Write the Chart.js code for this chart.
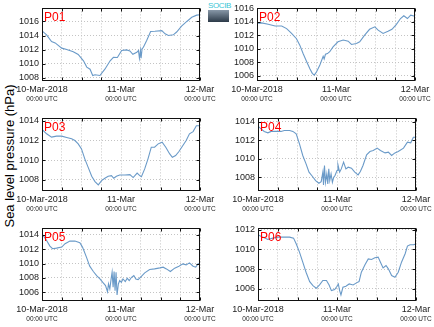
<!DOCTYPE html>
<html>
<head>
<meta charset="utf-8">
<script src="https://cdn.jsdelivr.net/npm/chart.js@4.4.1/dist/chart.umd.min.js"></script>
<style>
  body { margin: 0; background: #fff; width: 434px; height: 327px; position: relative; overflow: hidden; font-family: "Liberation Sans", Arial, sans-serif; }
  canvas { position: absolute; }
  #ylab { position: absolute; left: 9px; top: 156px; transform: translate(-50%, -50%) rotate(-90deg); font-size: 13px; white-space: nowrap; color: #000; }
  #logo { position: absolute; left: 208px; top: 2px; width: 21px; }
  #logo .t { font-size: 8px; line-height: 8px; color: #39c6d6; text-align: center; letter-spacing: -0.4px; }
  #logo .b { height: 12px; background: linear-gradient(#8898a8, #2c3a48); }
</style>
</head>
<body>
<div id="ylab">Sea level pressure (hPa)</div>
<div id="logo"><div class="t">SOCIB</div><div class="b"></div></div>
<script>
// hours since 10-Mar-2018 00:00 UTC
const dayHours = [0, 24, 48];
const dayLabels = ["10-Mar-2018", "11-Mar", "12-Mar"];
const utcLabel = "00:00 UTC";
const gridHours = [0, 6, 12, 18, 24, 30, 36, 42, 48];

const hoursP01 = [0, 1.4, 2.9, 4.0, 6.0, 7.5, 9.5, 11.0, 12.6, 13.6, 14.6, 15.4, 16.1, 17.6, 19.1, 20.7, 21.7, 22.9, 24.2, 25.7, 26.7, 27.6, 28.8, 29.3, 29.6, 29.9, 30.1, 30.4, 30.8, 31.8, 33.0, 34.3, 36.4, 37.4, 38.4, 39.9, 40.9, 42.4, 44.0, 45.5, 47.0, 48];
const pressP01 = [1014.67, 1014.1, 1013.14, 1012.95, 1012.2, 1012.0, 1011.7, 1011.3, 1010.4, 1009.5, 1009.2, 1008.3, 1008.4, 1008.3, 1009.2, 1010.4, 1010.9, 1010.86, 1011.86, 1011.95, 1011.8, 1011.33, 1011.6, 1011.86, 1010.76, 1011.86, 1010.76, 1012.1, 1012.33, 1013.3, 1014.57, 1014.6, 1014.7, 1014.24, 1014.0, 1014.1, 1014.5, 1015.33, 1016.0, 1016.6, 1016.9, 1016.95];

const hoursP02 = [0, 1.4, 3.4, 5.5, 7.5, 9.0, 10.5, 12.0, 13.0, 14.0, 15.1, 16.1, 16.8, 17.4, 18.1, 19.1, 20.1, 20.4, 20.8, 21.4, 22.1, 23.1, 24.6, 26.2, 27.7, 28.7, 30.2, 31.2, 32.7, 34.2, 35.8, 36.8, 38.3, 39.8, 41.0, 42.3, 43.6, 44.6, 45.7, 46.7, 48];
const pressP02 = [1013.8, 1013.85, 1013.65, 1013.4, 1013.4, 1013.0, 1012.3, 1011.5, 1010.55, 1009.3, 1008.1, 1007.0, 1006.36, 1006.1, 1006.6, 1007.6, 1008.9, 1008.5, 1009.2, 1009.3, 1009.57, 1010.3, 1011.04, 1011.3, 1011.14, 1010.65, 1010.8, 1011.04, 1012.03, 1012.9, 1013.26, 1012.77, 1012.28, 1012.6, 1012.9, 1013.6, 1014.5, 1014.9, 1014.5, 1015.0, 1014.84];

const hoursP03 = [0, 1.4, 2.9, 4.4, 6.0, 7.5, 9.0, 10.0, 11.0, 12.0, 13.0, 14.0, 15.1, 16.1, 17.1, 18.1, 19.1, 20.1, 21.1, 21.8, 22.6, 23.6, 25.2, 26.7, 27.7, 28.9, 29.7, 30.2, 31.2, 32.2, 33.2, 34.2, 35.3, 36.5, 37.6, 38.8, 39.6, 40.6, 41.6, 42.8, 43.8, 44.8, 45.9, 46.9, 48];
const pressP03 = [1013.12, 1012.68, 1012.34, 1012.44, 1012.44, 1012.3, 1012.17, 1012.0, 1011.66, 1011.15, 1010.14, 1009.3, 1008.37, 1007.83, 1007.5, 1007.93, 1008.17, 1008.37, 1008.44, 1008.17, 1008.37, 1008.5, 1008.5, 1008.54, 1008.24, 1008.7, 1008.44, 1008.34, 1009.12, 1010.14, 1011.32, 1011.32, 1011.66, 1011.83, 1011.32, 1010.64, 1010.3, 1010.47, 1010.88, 1011.49, 1012.0, 1012.68, 1012.9, 1013.5, 1013.5];

const hoursP04 = [0, 0.9, 1.9, 3.0, 4.0, 5.5, 7.0, 8.0, 9.6, 10.6, 11.6, 12.6, 13.6, 14.6, 15.5, 16.5, 17.5, 18.5, 19.2, 19.7, 19.9, 20.2, 20.5, 20.9, 21.2, 21.5, 21.8, 22.2, 22.6, 23.0, 23.4, 24.0, 24.3, 24.8, 25.3, 26.0, 26.7, 27.4, 28.4, 29.4, 30.4, 31.1, 31.9, 33.0, 34.0, 35.0, 36.2, 37.2, 38.6, 39.6, 40.6, 41.6, 42.6, 44.2, 45.4, 46.4, 47.2, 48];
const pressP04 = [1013.51, 1013.22, 1012.94, 1012.79, 1012.94, 1012.94, 1012.94, 1013.04, 1013.04, 1012.94, 1012.68, 1011.6, 1010.35, 1009.45, 1008.55, 1008.12, 1007.65, 1007.36, 1007.54, 1008.55, 1007.18, 1009.27, 1007.47, 1008.37, 1007.29, 1008.91, 1007.65, 1008.37, 1007.47, 1008.0, 1008.19, 1008.73, 1009.34, 1008.55, 1008.91, 1009.63, 1008.91, 1009.09, 1008.98, 1008.55, 1008.26, 1008.62, 1009.27, 1010.42, 1010.78, 1010.88, 1011.14, 1010.88, 1010.63, 1010.71, 1010.35, 1010.63, 1010.78, 1011.14, 1011.78, 1011.71, 1012.32, 1012.32];

const hoursP05 = [0, 1.4, 2.4, 3.2, 4.4, 6.0, 7.0, 8.5, 10.0, 11.5, 12.3, 13.5, 14.5, 15.6, 16.6, 17.6, 18.6, 19.3, 19.9, 20.2, 20.6, 21.0, 21.3, 21.6, 21.9, 22.2, 22.5, 22.8, 23.2, 23.6, 24.1, 24.6, 25.3, 25.9, 26.5, 27.2, 27.9, 28.5, 29.2, 30.2, 31.2, 32.7, 34.2, 35.8, 36.8, 37.8, 39.0, 40.3, 41.6, 42.8, 43.8, 44.8, 45.9, 46.7, 47.4, 48];
const pressP05 = [1014.16, 1013.22, 1012.43, 1012.06, 1012.15, 1012.29, 1012.76, 1013.13, 1013.13, 1012.9, 1012.29, 1010.89, 1009.63, 1008.88, 1008.32, 1007.85, 1007.29, 1006.92, 1006.07, 1007.15, 1006.45, 1007.85, 1008.79, 1006.68, 1008.88, 1006.21, 1008.79, 1005.61, 1007.15, 1007.62, 1007.38, 1007.85, 1007.48, 1007.94, 1007.62, 1008.08, 1008.32, 1007.85, 1007.76, 1008.22, 1008.69, 1009.16, 1009.25, 1009.39, 1009.49, 1009.25, 1008.88, 1009.35, 1009.63, 1009.95, 1009.81, 1010.09, 1009.63, 1009.49, 1009.95, 1009.95];

const hoursP06 = [0, 1.4, 3.0, 4.5, 6.0, 7.5, 9.6, 10.8, 11.6, 12.6, 13.6, 14.6, 15.7, 16.7, 17.7, 18.7, 19.7, 20.8, 21.6, 22.3, 23.3, 24.0, 24.4, 24.8, 25.2, 25.8, 26.7, 27.7, 28.9, 29.9, 30.7, 31.4, 32.5, 33.5, 34.5, 35.5, 36.5, 37.2, 38.0, 38.9, 39.6, 40.6, 41.6, 42.6, 43.6, 44.7, 45.4, 46.2, 47.2, 48];
const pressP06 = [1011.5, 1011.26, 1011.02, 1011.16, 1011.26, 1011.26, 1011.26, 1011.16, 1010.58, 1009.73, 1008.7, 1007.68, 1006.72, 1006.31, 1006.04, 1006.38, 1006.83, 1006.83, 1006.38, 1005.8, 1005.9, 1006.25, 1006.48, 1005.8, 1005.36, 1006.14, 1006.25, 1006.48, 1006.38, 1006.59, 1006.72, 1007.68, 1008.43, 1009.04, 1008.98, 1009.15, 1009.22, 1008.7, 1008.12, 1008.36, 1008.02, 1007.34, 1007.17, 1007.68, 1008.7, 1009.56, 1010.34, 1010.48, 1010.48, 1010.55];

// y axis ranges and tick labels per station
const yRangeP01 = [1007.52, 1017.86], yTicksP01 = [1008, 1010, 1012, 1014, 1016];
const yRangeP02 = [1005.23, 1016.0], yTicksP02 = [1006, 1008, 1010, 1012, 1014, 1016];
const yRangeP03 = [1006.88, 1014.24], yTicksP03 = [1008, 1010, 1012, 1014];
const yRangeP04 = [1006.53, 1014.34], yTicksP04 = [1008, 1010, 1012, 1014];
const yRangeP05 = [1004.77, 1014.9], yTicksP05 = [1006, 1008, 1010, 1012, 1014];
const yRangeP06 = [1004.74, 1012.15], yTicksP06 = [1006, 1008, 1010, 1012];

const panels = [
  { name: "P01", hours: hoursP01, press: pressP01, range: yRangeP01, ticks: yTicksP01, left: 0, top: 0 },
  { name: "P02", hours: hoursP02, press: pressP02, range: yRangeP02, ticks: yTicksP02, left: 215, top: 0 },
  { name: "P03", hours: hoursP03, press: pressP03, range: yRangeP03, ticks: yTicksP03, left: 0, top: 110 },
  { name: "P04", hours: hoursP04, press: pressP04, range: yRangeP04, ticks: yTicksP04, left: 216, top: 110 },
  { name: "P05", hours: hoursP05, press: pressP05, range: yRangeP05, ticks: yTicksP05, left: 0, top: 220 },
  { name: "P06", hours: hoursP06, press: pressP06, range: yRangeP06, ticks: yTicksP06, left: 216, top: 220 },
];

const FONT = "'Liberation Sans', Arial, sans-serif";
const GRID = "#c4c4c4";
const LINE = "#6a9ac8";

// box, inner ticks, date labels and station name
const framePlugin = {
  id: "frame",
  afterDraw(chart, args, opts) {
    const { ctx, chartArea: a, scales: { x, y } } = chart;
    const L = Math.round(a.left) + 0.5, R = Math.round(a.right) - 0.5;
    const T = Math.round(a.top) + 0.5, B = Math.round(a.bottom) - 0.5;
    ctx.save();
    ctx.strokeStyle = "#111";
    ctx.lineWidth = 1;
    ctx.beginPath();
    gridHours.forEach(h => {
      const px = Math.round(x.getPixelForValue(h)) + 0.5;
      ctx.moveTo(px, B); ctx.lineTo(px, B - 3);
      ctx.moveTo(px, T); ctx.lineTo(px, T + 3);
    });
    opts.ticks.forEach(v => {
      const py = Math.round(y.getPixelForValue(v)) + 0.5;
      ctx.moveTo(L, py); ctx.lineTo(L + 3, py);
      ctx.moveTo(R, py); ctx.lineTo(R - 3, py);
    });
    ctx.stroke();
    ctx.strokeRect(L, T, R - L, B - T);

    ctx.fillStyle = "#222";
    ctx.textAlign = "center";
    ctx.textBaseline = "middle";
    dayHours.forEach((h, i) => {
      const px = x.getPixelForValue(h);
      ctx.font = "9px " + FONT;
      ctx.fillText(dayLabels[i], px, a.bottom + 9);
      ctx.font = "6.5px " + FONT;
      ctx.fillText(utcLabel, px, a.bottom + 18.5);
    });

    ctx.fillStyle = "#ff0000";
    ctx.textAlign = "left";
    ctx.textBaseline = "alphabetic";
    ctx.font = "12px " + FONT;
    ctx.fillText(opts.name, a.left + 2, a.top + 12.7);
    ctx.restore();
  }
};

panels.forEach(p => {
  const canvas = document.createElement("canvas");
  canvas.width = 217;
  canvas.height = 109;
  canvas.style.left = p.left + "px";
  canvas.style.top = p.top + "px";
  document.body.appendChild(canvas);

  new Chart(canvas, {
    type: "line",
    data: {
      datasets: [{
        data: p.hours.map((h, i) => ({ x: h, y: p.press[i] })),
        borderColor: LINE,
        borderWidth: 1.1,
        pointRadius: 0,
        tension: 0,
        fill: false,
      }],
    },
    options: {
      responsive: false,
      animation: false,
      devicePixelRatio: 1,
      layout: { padding: { left: 0, right: 17, top: 8, bottom: 0 } },
      plugins: {
        legend: { display: false },
        tooltip: { enabled: false },
        frame: { name: p.name, ticks: p.ticks },
      },
      scales: {
        x: {
          type: "linear",
          min: 0,
          max: 48,
          afterBuildTicks: s => { s.ticks = gridHours.map(v => ({ value: v })); },
          afterFit: s => { s.height = 28; },
          ticks: { display: false },
          grid: { color: GRID, lineWidth: 1, drawTicks: false },
          border: { display: false, dash: [1, 2] },
        },
        y: {
          min: p.range[0],
          max: p.range[1],
          afterBuildTicks: s => { s.ticks = p.ticks.map(v => ({ value: v })); },
          afterFit: s => { s.width = 42; },
          ticks: { color: "#222", font: { family: FONT, size: 9 }, padding: 3, callback: v => String(v) },
          grid: { color: GRID, lineWidth: 1, drawTicks: false },
          border: { display: false, dash: [1, 2] },
        },
      },
    },
    plugins: [framePlugin],
  });
});
</script>
</body>
</html>
